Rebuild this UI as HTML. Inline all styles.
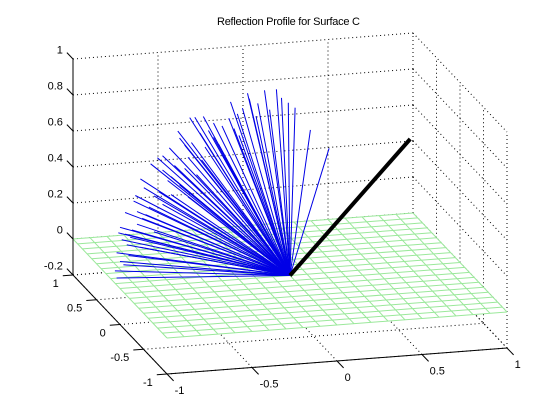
<!DOCTYPE html>
<html><head><meta charset="utf-8"><style>
html,body{margin:0;padding:0;background:#fff;}
svg{display:block;}
text{font-family:"Liberation Sans",sans-serif;font-size:11px;fill:#000;}
</style></head>
<body>
<svg id="chart" width="560" height="420" viewBox="0 0 560 420" xmlns="http://www.w3.org/2000/svg">
<rect width="560" height="420" fill="#fff"/>
<text x="217" y="25" textLength="143">Reflection Profile for Surface C</text>
<g id="grid"></g>
<g id="mesh"></g>
<g id="rays"></g>
<g id="incident"></g>
<g id="axes"></g>
</svg>
<script>
// tick values
const xTicks = [-1, -0.5, 0, 0.5, 1];
const yTicks = [-1, -0.5, 0, 0.5, 1];
const zTicks = [-0.2, 0, 0.2, 0.4, 0.6, 0.8, 1];
const xTickLabels = ["-1", "-0.5", "0", "0.5", "1"];
const yTickLabels = ["-1", "-0.5", "0", "0.5", "1"];
const zTickLabels = ["-0.2", "0", "0.2", "0.4", "0.6", "0.8", "1"];
// surface mesh grid (z = 0 plane)
const meshLines = [-1,-0.9,-0.8,-0.7,-0.6,-0.5,-0.4,-0.3,-0.2,-0.1,0,0.1,0.2,0.3,0.4,0.5,0.6,0.7,0.8,0.9,1];
// incident ray direction
const incident = [0.707, 0, 0.707];
// reflected rays endpoints
const rayX = [-0.35,-0.25,-0.15,-0.08,-0.05,-0.01,0.03,0.12,0.23,-0.19,-0.59,-0.56,-0.51,-0.45,-0.66,-0.65,-0.75,-0.82,-0.88,-0.91,-0.97,-1.0,-1.02,-1.03,-0.94,-0.78,-0.71,-0.62,-0.99,-1.01,-0.92,-0.86,-0.75,-0.53,-0.40,-0.31,-0.24,-0.12,-0.7,-0.6,-0.8,-0.85,-0.9,-0.5,-0.45,-0.65,-0.75,-0.55,-0.95,-0.98,-0.7,-0.4,-0.3,-0.6,-0.8,-0.88,-0.68,-0.72,-0.58,-0.48,-0.42,-0.36,-0.83,-0.93,-0.96,-1.0,-0.62,-0.52,-0.77,-0.87,-0.33,-0.28,-0.2,-0.9,-0.97,-1.02];
const rayY = [0,0,0,0,0,0,0,0,0,0,0,0,0,0,0,0,0,0,0,0,0,0,0,0,0,0,0,0,0,0,0,0,0,0,0,0,0,0,0,0,0,0,0,0,0,0,0,0,0,0,0,0,0,0,0,0,0,0,0,0,0,0,0,0,0,0,0,0,0,0,0,0,0,0,0,0];
const rayZ = [0.99,1.03,1.04,1.04,0.99,0.96,0.93,0.80,0.69,0.97,0.92,0.92,0.92,0.88,0.85,0.81,0.72,0.68,0.60,0.51,0.42,0.34,0.20,0.10,0.28,0.71,0.76,0.77,0.27,0.31,0.48,0.55,0.64,0.83,0.86,0.92,1.00,0.93,0.6,0.7,0.5,0.4,0.35,0.75,0.8,0.55,0.45,0.6,0.18,0.13,0.5,0.7,0.8,0.48,0.3,0.22,0.66,0.58,0.78,0.84,0.76,0.9,0.44,0.32,0.24,0.15,0.64,0.68,0.52,0.38,0.84,0.95,0.9,0.42,0.3,0.06];

// projection (orthographic)
const EX = [170, -13], EY = [-47, -49.5], EZ = -180;
function P(x, y, z){ return [290 + x*EX[0] + y*EY[0], 311.5 + x*EX[1] + y*EY[1] + (z+0.2)*EZ]; }
const NS = "http://www.w3.org/2000/svg";
function line(g, a, b, attrs){
  const l = document.createElementNS(NS, "line");
  l.setAttribute("x1", a[0].toFixed(1)); l.setAttribute("y1", a[1].toFixed(1));
  l.setAttribute("x2", b[0].toFixed(1)); l.setAttribute("y2", b[1].toFixed(1));
  for (const k in attrs) l.setAttribute(k, attrs[k]);
  g.appendChild(l); return l;
}
function text(g, s, x, y, anchor){
  const t = document.createElementNS(NS, "text");
  t.setAttribute("x", x.toFixed(1)); t.setAttribute("y", y.toFixed(1));
  t.setAttribute("text-anchor", anchor); t.textContent = s;
  g.appendChild(t); return t;
}
const zmin = -0.2, zmax = 1;
const dot = {stroke:"#000","stroke-width":"1","stroke-dasharray":"1 3"};
const grid = document.getElementById("grid");
zTicks.forEach(z => { const l = line(grid, P(-1,1,z), P(1,1,z), dot);
  
   });
xTicks.forEach(x => { if (x>-1){ const l = line(grid, P(x,1,zmin), P(x,1,zmax), dot);
  
   }});
zTicks.forEach(z => { const l = line(grid, P(1,1,z), P(1,-1,z), dot);
  
   });
yTicks.forEach(y => { const l = line(grid, P(1,y,zmin), P(1,y,zmax), dot);
  
   });
xTicks.forEach(x => { const l = line(grid, P(x,-1,zmin), P(x,1,zmin), dot);
  
   });
yTicks.forEach(y => { const l = line(grid, P(-1,y,zmin), P(1,y,zmin), dot);
  
   });

const mesh = document.getElementById("mesh");
const corners = [P(-1,-1,0), P(1,-1,0), P(1,1,0), P(-1,1,0)];
const poly = document.createElementNS(NS, "polygon");
poly.setAttribute("points", corners.map(c => c[0].toFixed(1)+","+c[1].toFixed(1)).join(" "));
poly.setAttribute("fill", "#fff");


mesh.appendChild(poly);
const ms = {stroke:"#9be89b","stroke-width":"1"};
meshLines.forEach(v => {
  const a = line(mesh, P(v,-1,0), P(v,1,0), ms);
  
  
  const b = line(mesh, P(-1,v,0), P(1,v,0), ms);
  
  
});

const rays = document.getElementById("rays");
for (let i=0;i<rayX.length;i++){
  const l = line(rays, P(0,0,0), P(rayX[i], rayY[i], rayZ[i]), {stroke:"#0000e6","stroke-width":"1"});
  
  
}
const inc = line(document.getElementById("incident"), P(0,0,0), P(incident[0],incident[1],incident[2]), {stroke:"#000","stroke-width":"4"});



const ax = document.getElementById("axes");
const solid = {stroke:"#000","stroke-width":"1"};
const za = line(ax, P(-1,1,zmin), P(-1,1,zmax), solid);


const ya = line(ax, P(-1,1,zmin), P(-1,-1,zmin), solid);


const xa = line(ax, P(-1,-1,zmin), P(1,-1,zmin), solid);


zTicks.forEach((z,i) => {
  const a = P(-1,1,z), b = P(-1,1.13,z);
  const t = line(ax, a, b, solid);
  
  
  const l = text(ax, zTickLabels[i], b[0]-4, b[1]+1, "end");
  
  
});
yTicks.forEach((y,i) => {
  const a = P(-1,y,zmin), b = P(-1.06,y,zmin);
  const t = line(ax, a, b, solid);
  
  
  const l = text(ax, yTickLabels[i], b[0]-4, b[1]+11, "end");
  
  
});
xTicks.forEach((x,i) => {
  const a = P(x,-1,zmin), b = P(x,-1.14,zmin);
  const t = line(ax, a, b, solid);
  
  
  const l = text(ax, xTickLabels[i], b[0]+1, b[1]+13, "start");
  
  
});
</script>
</body></html>
